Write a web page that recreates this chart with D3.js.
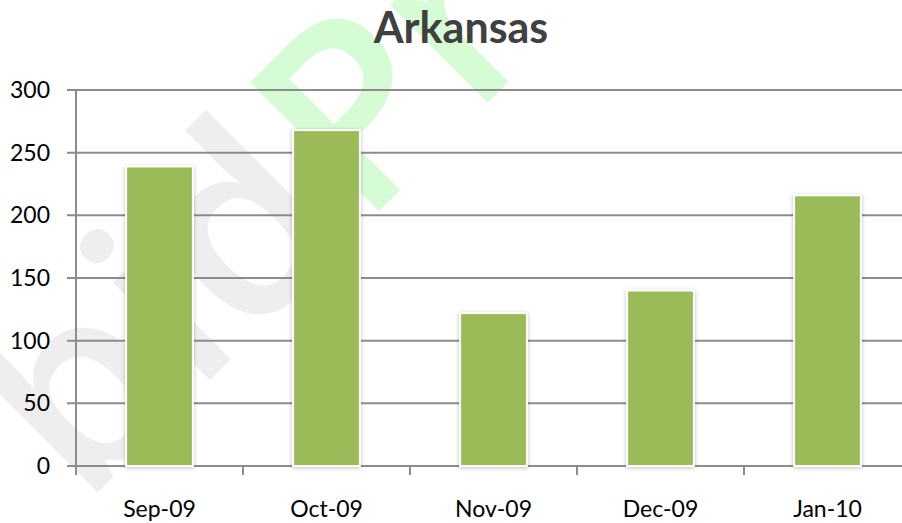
<!DOCTYPE html>
<html>
<head>
<meta charset="utf-8">
<script src="https://cdn.jsdelivr.net/npm/d3@7"></script>
<style>
  body { margin: 0; background: #fff; }
  svg { display: block; font-family: Lato, "Open Sans", sans-serif; }
</style>
</head>
<body>
<div id="chart"></div>
<script>
const months = ["Sep-09", "Oct-09", "Nov-09", "Dec-09", "Jan-10"];
const counts = [239, 268, 122, 140, 216];
const yTicks = [0, 50, 100, 150, 200, 250, 300];

const width = 902, height = 523;
const svg = d3.select("#chart").append("svg")
  .attr("width", width)
  .attr("height", height);

const defs = svg.append("defs");
const shadow = defs.append("filter").attr("id", "shadow")
  .attr("x", "-20%").attr("y", "-20%").attr("width", "140%").attr("height", "140%");
shadow.append("feDropShadow")
  .attr("dx", 0).attr("dy", 1).attr("stdDeviation", 2)
  .attr("flood-color", "#000").attr("flood-opacity", 0.25);

// faint watermark behind the chart
const wm = svg.append("g")
  .attr("transform", "translate(362,228) rotate(-45)")
  .attr("font-size", 255)
  .attr("font-weight", 600)
  .attr("font-family", "Open Sans, sans-serif");
wm.append("text").attr("x", -6).attr("text-anchor", "end")
  .attr("fill", "#eeeeee").text("bid");
wm.append("text").attr("x", 0)
  .attr("fill", "#d6fcd6").text("Pr");

const x = d3.scaleBand()
  .domain(months)
  .range([76, 911])
  .paddingInner(0.6)
  .paddingOuter(0.3);

const y = d3.scaleLinear()
  .domain([0, 300])
  .range([466, 90]);

// gridlines
svg.append("g")
  .selectAll("line")
  .data(yTicks)
  .join("line")
  .attr("x1", 67).attr("x2", width)
  .attr("y1", d => y(d)).attr("y2", d => y(d))
  .attr("stroke", "#8c8c8c")
  .attr("stroke-width", 2);

// y axis line
svg.append("line")
  .attr("x1", 76).attr("x2", 76)
  .attr("y1", y(300)).attr("y2", y(0) + 1)
  .attr("stroke", "#8c8c8c").attr("stroke-width", 2);

// category tick marks
svg.append("g")
  .selectAll("line")
  .data(months)
  .join("line")
  .attr("x1", d => x(d) - x.step() * x.paddingInner() / 2)
  .attr("x2", d => x(d) - x.step() * x.paddingInner() / 2)
  .attr("y1", y(0)).attr("y2", y(0) + 9)
  .attr("stroke", "#8c8c8c").attr("stroke-width", 2);

// bars
svg.append("g")
  .selectAll("rect")
  .data(months)
  .join("rect")
  .attr("x", d => x(d))
  .attr("y", (d, i) => y(counts[i]))
  .attr("width", x.bandwidth())
  .attr("height", (d, i) => y(0) - y(counts[i]))
  .attr("fill", "#9bbb59")
  .attr("stroke", "#ffffff")
  .attr("stroke-width", 2)
  .attr("filter", "url(#shadow)");

// y labels
svg.append("g")
  .selectAll("text")
  .data(yTicks)
  .join("text")
  .attr("x", 50)
  .attr("y", d => y(d) + 8)
  .attr("text-anchor", "end")
  .attr("font-size", 23)
  .attr("fill", "#000")
  .text(d => d);

// x labels
svg.append("g")
  .selectAll("text")
  .data(months)
  .join("text")
  .attr("x", d => x(d) + x.bandwidth() / 2)
  .attr("y", 517)
  .attr("text-anchor", "middle")
  .attr("font-size", 23)
  .attr("fill", "#000")
  .text(d => d);

svg.append("text")
  .attr("x", 461)
  .attr("y", 43)
  .attr("text-anchor", "middle")
  .attr("font-size", 43)
  .attr("font-weight", "bold")
  .attr("fill", "#404040")
  .text("Arkansas");
</script>
</body>
</html>
